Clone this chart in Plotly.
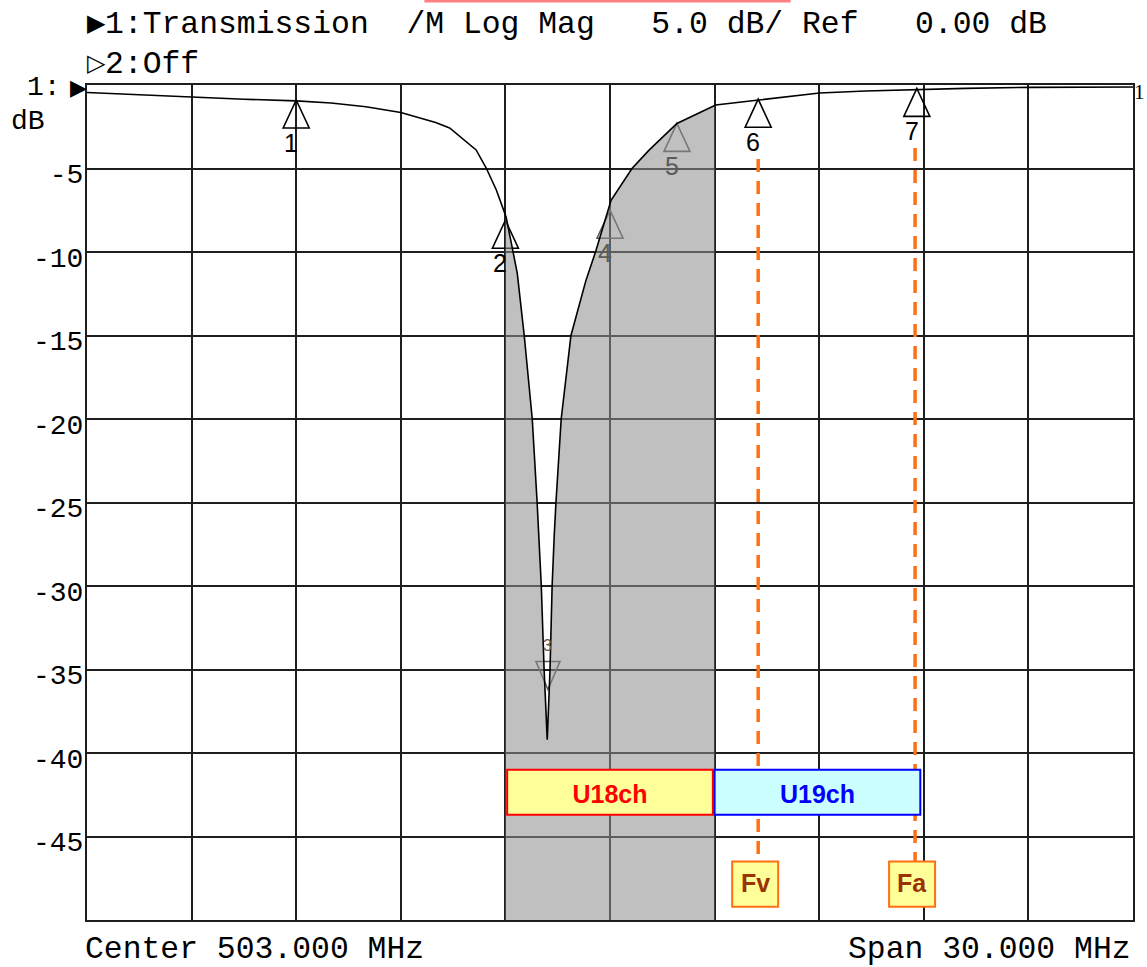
import numpy as np
import plotly.graph_objects as go

# ---------------- data ----------------
freq_mhz = [488.0, 489.5, 491.0, 492.5, 494.0, 495.0, 496.0, 497.0, 497.5, 498.0,
            498.4, 498.76, 499.16, 499.45, 499.74, 500.02, 500.19, 500.34, 500.54,
            500.77, 500.91, 501.03, 501.11, 501.2, 501.28, 501.34, 501.4, 501.45,
            501.6, 501.88, 502.31, 502.6, 503.03, 503.63, 504.12, 504.92, 505.55,
            506.03, 507.27, 509.01, 510.33, 512.02, 513.19, 515.08, 518.0]
trans_db = [-0.45, -0.6, -0.72, -0.85, -0.95, -1.08, -1.3, -1.65, -1.95, -2.25,
            -2.57, -3.17, -3.89, -4.97, -6.29, -7.9, -9.7, -11.26, -15.0,
            -20.0, -25.0, -30.0, -35.0, -39.2, -35.0, -30.0, -27.0, -25.0,
            -20.0, -15.0, -11.7, -9.9, -6.9, -5.0, -3.9, -2.3, -1.68,
            -1.2, -0.9, -0.48, -0.36, -0.26, -0.2, -0.14, -0.12]

marker_names = ["1", "2", "3", "4", "5", "6", "7"]
marker_freq = [494.0, 500.0, 501.22, 503.0, 504.92, 507.25, 511.8]
marker_db = [-0.9, -8.1, -36.2, -7.5, -2.3, -0.85, -0.2]
marker_down = [False, False, True, False, False, False, False]
marker_gray = [False, False, True, True, True, False, False]

shade_lo, shade_hi = 500.0, 506.0

channel_names = ["U18ch", "U19ch"]
channel_lo = [500.05, 506.0]
channel_hi = [505.95, 511.9]
channel_top_db = [-41.0, -41.0]
channel_bot_db = [-43.7, -43.7]
channel_fill = ["#FFFF99", "#CCFFFF"]
channel_color = ["#FF0000", "#0000FF"]

carrier_names = ["Fv", "Fa"]
carrier_freq = [507.25, 511.75]
carrier_line_top_db = [-4.43, -3.77]
carrier_box_top_db = [-46.5, -46.5]
carrier_box_bot_db = [-49.2, -49.2]

y_ticks = [-5, -10, -15, -20, -25, -30, -35, -40, -45]

header1 = "1:Transmission  /M Log Mag   5.0 dB/ Ref   0.00 dB"
header2 = "2:Off"
footer_left = "Center 503.000 MHz"
footer_right = "Span 30.000 MHz"

# ---------------- geometry ----------------
W, H = 1147, 967
ML, MR, MT, MB = 87, 12, 85, 47
PH = H - MT - MB


def py(pix):
    """pixel row -> paper y"""
    return (H - MB - pix) / PH


MONO = "Liberation Mono, DejaVu Sans Mono, monospace"

fig = go.Figure()

# shaded region under the curve between 500 and 506 MHz
f = np.array(freq_mhz)
d = np.array(trans_db)
inside = (f > shade_lo) & (f < shade_hi)
sx = [shade_lo] + list(f[inside]) + [shade_hi, shade_hi, shade_lo]
sy = [float(np.interp(shade_lo, f, d))] + list(d[inside]) + [float(np.interp(shade_hi, f, d)), -50, -50]
fig.add_trace(go.Scatter(x=sx, y=sy, fill="toself", mode="lines",
                         line=dict(width=0), fillcolor="rgba(143,143,143,0.56)",
                         hoverinfo="skip", showlegend=False))

# main trace
fig.add_trace(go.Scatter(x=freq_mhz, y=trans_db, mode="lines",
                         line=dict(color="black", width=1.6), showlegend=False))

shapes = []
annotations = []

# markers (triangles)
for name, mf, md, down, gray in zip(marker_names, marker_freq, marker_db, marker_down, marker_gray):
    col = "#5a5a5a" if gray else "black"
    if down:
        path = "M0,0 L-12,28 L12,28 Z"
    else:
        path = "M0,0 L-13,-28 L13,-28 Z"
    shapes.append(dict(type="path", xref="x", yref="y", xsizemode="pixel", ysizemode="pixel",
                       xanchor=mf, yanchor=md, path=path, layer="between",
                       line=dict(color=col, width=1.6)))
    if down:
        annotations.append(dict(x=mf, y=md, xref="x", yref="y", text=name, showarrow=False,
                                yshift=44, font=dict(family="Liberation Sans", size=16, color=col)))
    else:
        annotations.append(dict(x=mf, y=md, xref="x", yref="y", text=name, showarrow=False,
                                yshift=-43, xshift=-5,
                                font=dict(family="Liberation Sans", size=25, color=col)))

# carrier dashed lines
for cn, cf, ltop, btop in zip(carrier_names, carrier_freq, carrier_line_top_db, carrier_box_top_db):
    shapes.append(dict(type="line", xref="x", yref="y", x0=cf, x1=cf, y0=ltop, y1=btop,
                       line=dict(color="#FF7014", width=3.5, dash="13px,9px"), layer="above"))

# channel boxes
for cn, lo, hi, top, bot, fc, lc in zip(channel_names, channel_lo, channel_hi, channel_top_db,
                                         channel_bot_db, channel_fill, channel_color):
    shapes.append(dict(type="rect", xref="x", yref="y", x0=lo, x1=hi, y0=bot, y1=top,
                       fillcolor=fc, line=dict(color=lc, width=2), layer="above",
                       label=dict(text=f"<b>{cn}</b>", textposition="middle center",
                                  font=dict(family="Liberation Sans", size=25, color=lc))))

# carrier label boxes + text
for cn, cf, top, bot in zip(carrier_names, carrier_freq, carrier_box_top_db, carrier_box_bot_db):
    shapes.append(dict(type="rect", xref="x", yref="y", xsizemode="pixel", xanchor=cf,
                       x0=-26, x1=20, y0=bot, y1=top,
                       fillcolor="#FFFF99", line=dict(color="#FF7014", width=2), layer="above"))
    annotations.append(dict(x=cf, y=(top + bot) / 2, xref="x", yref="y", text=f"<b>{cn}</b>",
                            showarrow=False, xshift=-3, yshift=1,
                            font=dict(family="Liberation Sans", size=25, color="#993300")))

# top pink line (partial)
shapes.append(dict(type="line", xref="paper", yref="paper", x0=(425 - ML) / 1048, x1=(792 - ML) / 1048,
                   y0=py(1), y1=py(1), line=dict(color="#FF8080", width=3)))

# header / footer texts
hdr_font = dict(family=MONO, size=31.4, color="black")
tri_font = dict(family="DejaVu Sans", size=24, color="black")
annotations += [
    dict(x=0, y=py(23), xref="paper", yref="paper", text="\u25B6", showarrow=False,
         xanchor="left", yanchor="middle", xshift=-2, font=tri_font),
    dict(x=0, y=py(24), xref="paper", yref="paper", text=header1, showarrow=False,
         xanchor="left", yanchor="middle", xshift=16, font=hdr_font),
    dict(x=0, y=py(63), xref="paper", yref="paper", text="\u25B7", showarrow=False,
         xanchor="left", yanchor="middle", xshift=-2, font=tri_font),
    dict(x=0, y=py(64), xref="paper", yref="paper", text=header2, showarrow=False,
         xanchor="left", yanchor="middle", xshift=16, font=hdr_font),
    dict(x=0, y=py(88), xref="paper", yref="paper", text="\u25B6", showarrow=False,
         xanchor="right", yanchor="middle", xshift=2, font=dict(family="DejaVu Sans", size=22, color="black")),
    dict(x=0, y=py(88), xref="paper", yref="paper", text="1:", showarrow=False,
         xanchor="right", yanchor="middle", xshift=-24, font=dict(family=MONO, size=28, color="black")),
    dict(x=0, y=py(121), xref="paper", yref="paper", text="dB", showarrow=False,
         xanchor="right", yanchor="middle", xshift=-40, font=dict(family=MONO, size=28, color="black")),
    dict(x=1, y=py(92), xref="paper", yref="paper", text="1", showarrow=False,
         xanchor="left", yanchor="middle", xshift=-1, font=dict(family="Liberation Serif", size=21, color="black")),
    dict(x=0, y=py(949), xref="paper", yref="paper", text=footer_left, showarrow=False,
         xanchor="left", yanchor="middle", xshift=-4, font=hdr_font),
    dict(x=1, y=py(949), xref="paper", yref="paper", text=footer_right, showarrow=False,
         xanchor="right", yanchor="middle", xshift=0, font=hdr_font),
]

fig.update_layout(
    width=W, height=H,
    margin=dict(l=ML, r=MR, t=MT, b=MB, pad=0),
    paper_bgcolor="white", plot_bgcolor="white",
    showlegend=False, hovermode=False,
    shapes=shapes, annotations=annotations,
    xaxis=dict(range=[488, 518], dtick=3, tick0=488, showgrid=True, gridcolor="#1e1e1e", gridwidth=2,
               showticklabels=False, ticks="", ticklen=0, zeroline=False,
               showline=True, linecolor="#1e1e1e", linewidth=2, mirror=True),
    yaxis=dict(range=[-50, 0], tickvals=y_ticks, ticktext=[str(v) for v in y_ticks],
               showgrid=True, gridcolor="#1e1e1e", gridwidth=2, zeroline=False,
               ticks="", ticklen=0, ticklabelstandoff=-4, ticklabelshift=5,
               tickfont=dict(family=MONO, size=28, color="black"),
               showline=True, linecolor="#1e1e1e", linewidth=2, mirror=True),
)

fig.write_html("out.html", config={"displayModeBar": False},
               post_script="document.body.style.margin='0';document.body.style.padding='0';")
